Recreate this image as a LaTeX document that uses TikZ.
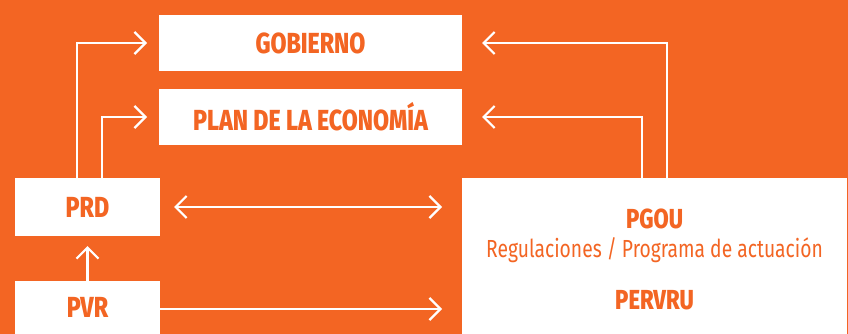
\documentclass[tikz,border=0pt]{standalone}
\usepackage{fontspec}
\setmainfont{Fira Sans}[FakeStretch=0.78,BoldFont={Fira Sans ExtraBold},BoldFeatures={FakeStretch=0.8}]
\usetikzlibrary{arrows.meta,calc}
\definecolor{planorange}{HTML}{F36523}
\tikzstyle{box}=[fill=white,inner sep=0pt,outer sep=0pt,text=planorange,font=\bfseries\fontsize{29}{31}\selectfont]
\tikzstyle{boxtext}=[inner sep=0pt,text=planorange]
\tikzstyle{link}=[draw=white,line width=2.2pt,-{Straight Barb[length=11pt,width=22pt]}]
\tikzstyle{twolink}=[draw=white,line width=2.2pt,{Straight Barb[length=11pt,width=22pt]}-{Straight Barb[length=11pt,width=22pt]}]

\begin{document}
\begin{tikzpicture}[x=1pt,y=-1pt]

\fill[planorange] (0,0) rectangle (848,334);
\useasboundingbox (0,0) rectangle (848,334);

    % boxes
    \node[box,minimum width=303pt,minimum height=56pt] (gob) at (310.5,43) {GOBIERNO};
    \node[box,minimum width=303pt,minimum height=56pt] (plan) at (310.5,117) {PLAN DE LA ECONOMÍA};
    \node[box,minimum width=145pt,minimum height=58pt] (prd) at (87.5,207) {PRD};
    \node[box,minimum width=145pt,minimum height=53pt] (pvr) at (87.5,307.5) {PVR};
    \node[box,minimum width=385pt,minimum height=156pt] (pgou) at (654.5,256) {};

    \node[boxtext,font=\bfseries\fontsize{27.5}{29}\selectfont] (pgoutitle) at (654.5,219) {PGOU};
    \node[boxtext,font=\fontsize{24.7}{27}\selectfont] (pgoureg) at (654.5,250) {Regulaciones / Programa de actuación};
    \node[boxtext,font=\bfseries\fontsize{27.5}{29}\selectfont] (pervru) at (654.5,300) {PERVRU};

    % connectors
    \draw[link] ([xshift=-10.5pt]prd.north) |- ([xshift=-12pt]gob.west);
    \draw[link] ([xshift=14.5pt]prd.north) |- ([xshift=-12pt]plan.west);
    \draw[link] ([xshift=12.5pt]pgou.north) |- ([xshift=20pt]gob.east);
    \draw[link] ([xshift=-12.5pt]pgou.north) |- ([xshift=20pt]plan.east);

    \draw[twolink] ([xshift=14pt]prd.east) -- ($(prd.east -| pgou.west)+(-20,0)$);
    \draw[link] ([yshift=-1.5pt]pvr.east) -- ($([yshift=-1.5pt]pvr.east -| pgou.west)+(-20,0)$);
    \draw[link] (pvr.north) -- ([yshift=-10pt]prd.south);

\end{tikzpicture}
\end{document}
